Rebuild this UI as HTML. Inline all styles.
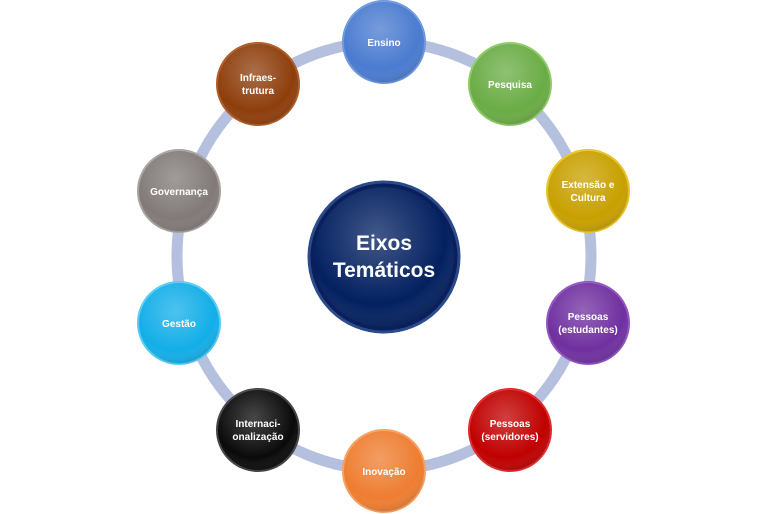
<!DOCTYPE html>
<html><head><style>
html,body{margin:0;padding:0;background:#fff;width:768px;height:514px;overflow:hidden}
svg text{font-family:"Liberation Sans",sans-serif;font-weight:bold;fill:#fff;text-anchor:middle}
</style></head><body>
<svg width="768" height="514" viewBox="0 0 768 514" xmlns="http://www.w3.org/2000/svg">
<defs>
<radialGradient id="sh" cx="0.45" cy="0.35" r="0.7">
<stop offset="0" stop-color="#fff" stop-opacity="0.25"/><stop offset="0.7" stop-color="#fff" stop-opacity="0"/><stop offset="1" stop-color="#000" stop-opacity="0.2"/>
</radialGradient>
</defs>
<ellipse cx="384" cy="256" rx="207" ry="214" fill="none" stroke="#b5c0df" stroke-width="11"/>
<g>
<circle cx="384" cy="257" r="75" fill="#0a1f5c" stroke="#2a4a8a" stroke-width="3"/>
<circle cx="384" cy="257" r="70" fill="#032060"/>
<circle cx="384" cy="257" r="70" fill="url(#sh)"/>
<text x="384" y="250" font-size="21">Eixos</text>
<text x="384" y="277" font-size="21">Temáticos</text>
</g>
<g font-size="10">
<circle cx="384" cy="42" r="41" fill="#4a7bd0" stroke="#6d98e0" stroke-width="2"/><circle cx="384" cy="42" r="41" fill="url(#sh)"/>
<text x="384" y="46">Ensino</text>
<circle cx="510" cy="84" r="41" fill="#6aac45" stroke="#8ecb67" stroke-width="2"/><circle cx="510" cy="84" r="41" fill="url(#sh)"/>
<text x="510" y="88">Pesquisa</text>
<circle cx="588" cy="191" r="41" fill="#c8a000" stroke="#e8c42a" stroke-width="2"/><circle cx="588" cy="191" r="41" fill="url(#sh)"/>
<text x="588" y="188">Extensão e</text><text x="588" y="201">Cultura</text>
<circle cx="588" cy="323" r="41" fill="#7030a0" stroke="#9154c0" stroke-width="2"/><circle cx="588" cy="323" r="41" fill="url(#sh)"/>
<text x="588" y="320">Pessoas</text><text x="588" y="333">(estudantes)</text>
<circle cx="510" cy="430" r="41" fill="#c00000" stroke="#e02a2a" stroke-width="2"/><circle cx="510" cy="430" r="41" fill="url(#sh)"/>
<text x="510" y="427">Pessoas</text><text x="510" y="440">(servidores)</text>
<circle cx="384" cy="471" r="41" fill="#ee7d30" stroke="#f8a060" stroke-width="2"/><circle cx="384" cy="471" r="41" fill="url(#sh)"/>
<text x="384" y="475">Inovação</text>
<circle cx="258" cy="430" r="41" fill="#0a0a0a" stroke="#444" stroke-width="2"/><circle cx="258" cy="430" r="41" fill="url(#sh)"/>
<text x="258" y="427">Internaci-</text><text x="258" y="440">onalização</text>
<circle cx="179" cy="323" r="41" fill="#12aee8" stroke="#55ccf5" stroke-width="2"/><circle cx="179" cy="323" r="41" fill="url(#sh)"/>
<text x="179" y="327">Gestão</text>
<circle cx="179" cy="191" r="41" fill="#817a78" stroke="#a8a2a0" stroke-width="2"/><circle cx="179" cy="191" r="41" fill="url(#sh)"/>
<text x="179" y="195">Governança</text>
<circle cx="258" cy="84" r="41" fill="#8e3e0c" stroke="#b05a22" stroke-width="2"/><circle cx="258" cy="84" r="41" fill="url(#sh)"/>
<text x="258" y="81">Infraes-</text><text x="258" y="94">trutura</text>
</g>
</svg>
</body></html>
